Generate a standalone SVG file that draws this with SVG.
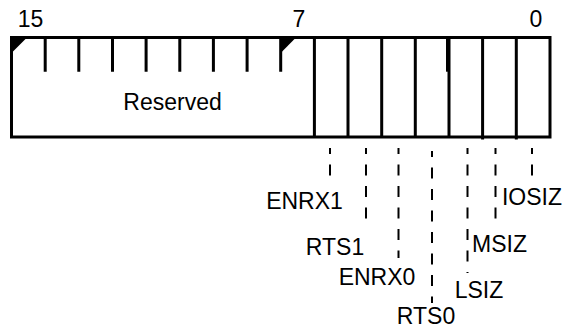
<svg xmlns="http://www.w3.org/2000/svg" width="565" height="329" viewBox="0 0 565 329">
<style>
.t{font-family:"Liberation Sans",Arial,sans-serif;font-size:23px;fill:#000;text-anchor:middle}
.b{stroke:#000;stroke-width:3;fill:none}
.d{stroke:#000;stroke-width:2;stroke-dasharray:11 10.5;stroke-dashoffset:5;fill:none}
</style>
<rect width="565" height="329" fill="#fff"/>
<g id="register">
<rect class="b" x="11.5" y="37.5" width="538.5" height="99.5"/>
<path d="M11.5 37.5 L27 37.5 L11.5 53 Z" fill="#000"/>
<path d="M280.7 37.5 L296 37.5 L280.7 53 Z" fill="#000"/>
<path class="b" d="M45.2 37.5V71.7M78.8 37.5V71.7M112.5 37.5V71.7M146.1 37.5V71.7M179.8 37.5V71.7M213.4 37.5V71.7M247.1 37.5V71.7M280.7 37.5V71.7"/>
<path class="b" d="M314.4 37.5V137M348 37.5V137M381.7 37.5V137M415.3 37.5V137M449 37.5V137M482.6 37.5V139.5M516.3 37.5V139.5"/>
<path d="M448 37.5V71.7" stroke="#000" stroke-width="4"/>
<text class="t" x="30.5" y="27">15</text>
<text class="t" x="299" y="27">7</text>
<text class="t" x="536" y="27">0</text>
<text class="t" x="172.5" y="110">Reserved</text>
</g>
<g id="connectors">
<path class="d" d="M330 148V178"/>
<path class="d" d="M366 148V222"/>
<path class="d" d="M398.5 148V258"/>
<path class="d" d="M432 151V303"/>
<path class="d" d="M467.5 148V273"/>
<path class="d" d="M495.5 148V223"/>
<path class="d" d="M532 148V179"/>
</g>
<g id="ENRX1"><text class="t" x="304.5" y="209">ENRX1</text></g>
<g id="RTS1"><text class="t" x="335" y="255">RTS1</text></g>
<g id="ENRX0"><text class="t" x="377" y="285">ENRX0</text></g>
<g id="RTS0"><text class="t" x="426" y="324">RTS0</text></g>
<g id="LSIZ"><text class="t" x="479" y="298">LSIZ</text></g>
<g id="MSIZ"><text class="t" x="499.5" y="252">MSIZ</text></g>
<g id="IOSIZ"><text class="t" x="532" y="205">IOSIZ</text></g>
</svg>
